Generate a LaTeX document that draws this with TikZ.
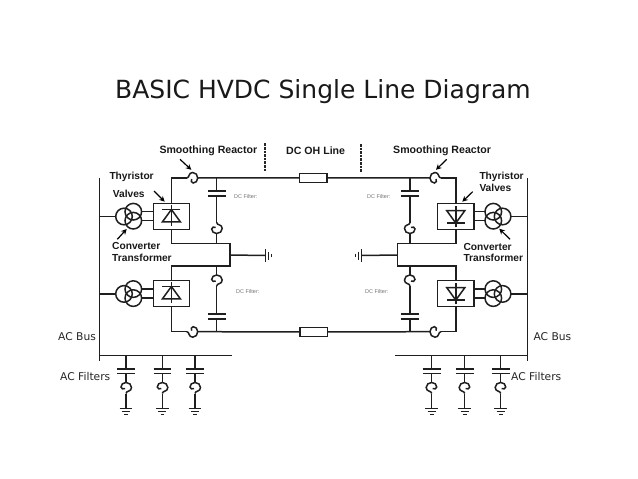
\documentclass[tikz,border=0pt]{standalone}
\usepackage{fontspec}
\setmainfont{Liberation Sans}
\newfontfamily\titlefont{DejaVu Sans}
\usepackage{tikz}
\usetikzlibrary{arrows.meta}
\definecolor{inkwire}{gray}{0.12}
\tikzset{
  wire/.style={draw=inkwire,line width=1.5},
  valvebox/.style={draw=inkwire,line width=1.5,fill=white,minimum width=36.3pt,minimum height=26pt,inner sep=0},
  seriesbox/.style={draw=inkwire,line width=1.5,fill=white,minimum width=27.5pt,minimum height=9pt,inner sep=0},
  pointer/.style={draw=black,line width=1.2,-{Stealth[length=5.5pt,width=5.5pt]}},
  lab/.style={anchor=west,inner sep=0,font=\fontsize{10.2}{12}\bfseries,text=black!90},
  toplab/.style={lab,font=\fontsize{10.6}{12}\bfseries},
  busnote/.style={anchor=west,inner sep=0,font=\titlefont\fontsize{10.7}{12}\selectfont,text=black!85},
  tiny/.style={anchor=west,inner sep=0,font=\fontsize{5.5}{6}\selectfont,text=black!55},
  reactor/.pic={
    \draw[wire] (0,-6) .. controls (0,-3) and (5.5,-4.5) .. (5.5,0)
      .. controls (5.5,3) and (3,5) .. (0,5) .. controls (-3,5) and (-5,3) .. (-5,0.5)
      .. controls (-5,-1.5) and (-2.5,-2) .. (-1,-1);
    \coordinate (-in) at (0,-6);
    \coordinate (-out) at (0,5);
  },
  capacitor/.pic={
    \draw[wire] (-8.8,-2.4) -- (8.8,-2.4);
    \draw[wire] (-8.8,2.4) -- (8.8,2.4);
    \coordinate (-in) at (0,-2.4);
    \coordinate (-out) at (0,2.4);
  },
  earth/.pic={
    \draw[wire] (-6.3,0) -- (6.3,0);
    \draw[wire] (-4,3) -- (4,3);
    \draw[wire] (-1.8,6) -- (1.8,6);
    \coordinate (-in) at (0,0);
  },
  thyristor/.pic={
    \draw[wire] (0,-11) -- (0,10);
    \draw[wire] (-9,-6.8) -- (9,-6.8);
    \draw[wire] (0,-6.8) -- (-9,5.6) -- (9,5.6) -- cycle;
  },
  trafo/.pic={
    \draw[wire] (0,-4.5) circle (8.3);
    \draw[wire] (0,4.5) circle (8.3);
    \draw[wire] (-9.3,0.3) circle (8.3);
    \coordinate (-bus) at (-17.6,0.3);
    \coordinate (-up) at (8.3,-4.5);
    \coordinate (-down) at (8.3,4.5);
  }
}
\begin{document}
\begin{tikzpicture}[x=1pt,y=-1pt]
\useasboundingbox (0,0) rectangle (638,479);
% title
\node[anchor=west,inner sep=0,font=\titlefont\fontsize{25}{28}\selectfont,text=black!90] (title) at (115,92) {BASIC HVDC Single Line Diagram};
% AC buses
\coordinate (busLtop) at (99.3,178);
\coordinate (busLbot) at (99.3,361);
\coordinate (busRtop) at (527.3,178);
\coordinate (busRbot) at (527.3,361);
\coordinate (hbLend) at (232,355.7);
\coordinate (hbRend) at (395,355.7);
\draw[wire] (busLtop) -- (busLbot);
\draw[wire] (busRtop) -- (busRbot);
\draw[wire] (busLbot |- hbLend) -- (hbLend);
\draw[wire] (busRbot |- hbRend) -- (hbRend);
% valves
\node[valvebox] (valveTL) at (171.4,216.3) {};
\node[valvebox] (valveBL) at (171.4,293.3) {};
\node[valvebox] (valveTR) at (455.8,216.3) {};
\node[valvebox] (valveBR) at (455.8,293.3) {};
\pic at (valveTL.center) {thyristor};
\pic at (valveBL.center) {thyristor};
\pic[yscale=-1] at (valveTR.center) {thyristor};
\pic[yscale=-1] at (valveBR.center) {thyristor};
% transformers
\pic (trTL) at (133.3,216.2) {trafo};
\pic (trBL) at (133.3,293.6) {trafo};
\pic[xscale=-1] (trTR) at (493.3,216.2) {trafo};
\pic[xscale=-1] (trBR) at (493.3,293.6) {trafo};
\foreach \t/\v in {trTL/valveTL.west,trBL/valveBL.west,trTR/valveTR.east,trBR/valveBR.east} {
  \draw[wire] (\t-up) -- (\t-up -| \v);
  \draw[wire] (\t-down) -- (\t-down -| \v);
}
\foreach \t/\b in {trTL/busLtop,trBL/busLtop,trTR/busRtop,trBR/busRtop}
  \draw[wire] (\t-bus) -- (\t-bus -| \b);
% series reactors and dc lines
\pic[rotate=90] (srTL) at (192.7,178) {reactor};
\pic[rotate=90,xscale=-1] (srBL) at (192.7,331.7) {reactor};
\pic[rotate=-90,xscale=-1] (srTR) at (435,178) {reactor};
\pic[rotate=-90] (srBR) at (435,331.7) {reactor};
\node[seriesbox] (lineT) at (313.3,177.8) {};
\node[seriesbox] (lineB) at (313.6,331.9) {};
\draw[wire] (valveTL.north) |- (srTL-in);
\draw[wire] (valveBL.south) |- (srBL-in);
\draw[wire] (valveTR.north) |- (srTR-in);
\draw[wire] (valveBR.south) |- (srBR-in);
\draw[wire] (srTL-out) -- (lineT.west);
\draw[wire] (srBL-out) -- (lineB.west);
\draw[wire] (srTR-out) -- (lineT.east);
\draw[wire] (srBR-out) -- (lineB.east);
% midpoint
\coordinate (midL) at (230,255);
\coordinate (midR) at (397.3,255);
\coordinate (midLt) at (230,243.3);
\coordinate (midLb) at (230,266);
\coordinate (midRt) at (397.3,243.3);
\coordinate (midRb) at (397.3,266);
\draw[wire] (valveTL.south) |- (midLt) -- (midLb) -| (valveBL.north);
\draw[wire] (valveTR.south) |- (midRt) -- (midRb) -| (valveBR.north);
\pic[rotate=90] (gndL) at (265.7,255.5) {earth};
\pic[rotate=-90] (gndR) at (361.7,255.5) {earth};
\draw[wire] (midL) -- (gndL-in);
\draw[wire] (midR) -- (gndR-in);
% dc filters
\foreach \n/\x/\sx in {L/216.7/1,R/410/-1} {
  \pic (capT\n) at (\x,193.5) {capacitor};
  \pic (capB\n) at (\x,316.5) {capacitor};
  \pic[xscale=\sx] (rxT\n) at (\x,228.5) {reactor};
  \pic[xscale=\sx,yscale=-1] (rxB\n) at (\x,280) {reactor};
  \draw[wire] (capT\n-in) -- (\x,177.8);
  \draw[wire] (capT\n-out) -- (rxT\n-in);
  \draw[wire] (rxT\n-out) -- (\x,243.3);
  \draw[wire] (rxB\n-out) -- (\x,266);
  \draw[wire] (rxB\n-in) -- (capB\n-in);
  \draw[wire] (capB\n-out) -- (\x,331.8);
}
% ac filters
\foreach \n/\x/\sx/\e in {a/126/1/hbLend,b/162.3/1/hbLend,c/195/1/hbLend,d/431.7/-1/hbRend,e/464.7/-1/hbRend,f/500.7/-1/hbRend} {
  \pic (cap\n) at (\x,371.2) {capacitor};
  \pic[xscale=\sx,yscale=-1] (rx\n) at (\x,387.5) {reactor};
  \pic (gnd\n) at (\x,408.3) {earth};
  \draw[wire] (cap\n-in) -- (cap\n-in |- \e);
  \draw[wire] (cap\n-out) -- (rx\n-out);
  \draw[wire] (rx\n-in) -- (gnd\n-in);
}
% dashed separators
\coordinate (sepLt) at (265,143.3);
\coordinate (sepLb) at (265,170.5);
\coordinate (sepRt) at (361,144);
\coordinate (sepRb) at (361,171.5);
\draw[draw=black!85,line width=2.2,dash pattern=on 2.6pt off 1pt] (sepLt) -- (sepLb);
\draw[draw=black!85,line width=2.2,dash pattern=on 2.6pt off 1pt] (sepRt) -- (sepRb);
% labels
\node[toplab] (smL) at (159.3,150.5) {Smoothing Reactor};
\node[toplab] (oh) at (286,150.5) {DC OH Line};
\node[toplab] (smR) at (393,150.5) {Smoothing Reactor};
\node[lab] (thL) at (109.3,176.5) {Thyristor};
\node[lab] (vaL) at (112.7,194.3) {Valves};
\node[lab] (coL) at (112,245.7) {Converter};
\node[lab] (trL) at (112,258.3) {Transformer};
\node[lab] (thR) at (479.3,176.5) {Thyristor};
\node[lab] (vaR) at (479.3,188.3) {Valves};
\node[lab] (coR) at (463.3,246.7) {Converter};
\node[lab] (trR) at (463.3,258.3) {Transformer};
\node[busnote] (acbL) at (58,336.5) {AC Bus};
\node[busnote] (acbR) at (533.3,336.5) {AC Bus};
\node[busnote] (acfL) at (60,376.5) {AC Filters};
\node[busnote] (acfR) at (511,376.5) {AC Filters};
\node[tiny] (dfTL) at (234,196.7) {DC Filter:};
\node[tiny] (dfTR) at (367,196.7) {DC Filter:};
\node[tiny] (dfBL) at (236,291.7) {DC Filter:};
\node[tiny] (dfBR) at (365,291.7) {DC Filter:};
% pointers
\foreach \n/\ax/\ay/\bx/\by in {p/180/159.3/191.3/169.8,q/154/191/164.7/201.7,r/117.3/239.3/126.7/229,s/446.7/159.3/436/169.8,t/472.7/191.7/462.3/201.7,u/510/239.3/499.3/228.7} {
  \coordinate (\n a) at (\ax,\ay);
  \coordinate (\n b) at (\bx,\by);
  \draw[pointer] (\n a) -- (\n b);
}
\end{tikzpicture}
\end{document}
